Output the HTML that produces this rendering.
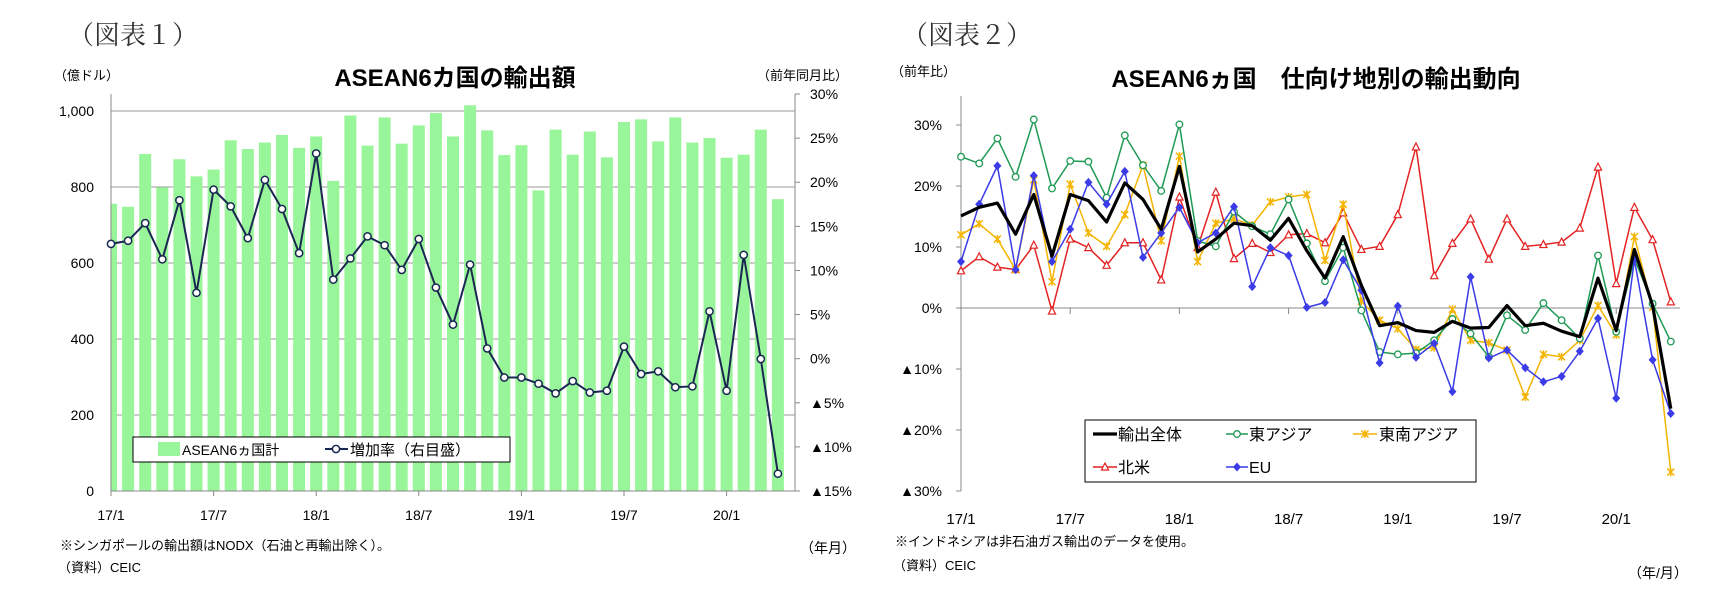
<!DOCTYPE html>
<html><head><meta charset="utf-8">
<style>
body{margin:0;background:#fff;}
svg{display:block;font-family:"Liberation Sans","Noto Sans CJK JP",sans-serif;}
</style></head><body>
<svg width="1717" height="606" viewBox="0 0 1717 606" xmlns="http://www.w3.org/2000/svg">
<g id="c1"></g>
<g id="c2"></g>
</svg>
<script>
const months=["17/1","17/7","18/1","18/7","19/1","19/7","20/1"];
const leftTicks=[0,200,400,600,800,1000];
const rightTicks=["30%","25%","20%","15%","10%","5%","0%","▲5%","▲10%","▲15%"];
const exportsBn=[756,748,887,799,873,828,846,923,900,917,937,903,933,816,988,909,983,914,962,995,933,1015,949,884,910,791,951,885,946,878,971,978,920,983,917,929,877,885,951,768];
const growthPct=[13.05,13.4,15.4,11.3,18.0,7.5,19.2,17.3,13.7,20.3,17.0,12.0,23.3,9.0,11.4,13.9,12.9,10.1,13.6,8.1,3.9,10.7,1.2,-2.1,-2.1,-2.8,-3.9,-2.5,-3.8,-3.6,1.4,-1.7,-1.4,-3.2,-3.1,5.4,-3.6,11.8,0.0,-13.0];
const c2Ticks=["30%","20%","10%","0%","▲10%","▲20%","▲30%"];
const totalS=[15.1,16.5,17.2,12.1,18.6,8.5,18.6,17.6,14.1,20.5,17.8,12.9,23.2,9.2,11.3,13.9,13.5,11.1,14.7,9.4,4.9,11.7,3.7,-2.9,-2.4,-3.7,-4.0,-2.2,-3.3,-3.2,0.4,-2.9,-2.5,-3.8,-4.7,4.9,-3.7,9.6,0.4,-16.5];
const eastAsia=[24.8,23.7,27.8,21.5,30.9,19.6,24.1,24.0,18.1,28.3,23.4,19.2,30.1,11.0,10.1,15.8,13.4,12.1,17.8,10.6,4.4,9.9,-0.4,-7.2,-7.6,-7.4,-5.3,-1.8,-4.2,-8.0,-1.2,-3.6,0.8,-2.0,-5.0,8.6,-3.9,8.1,0.7,-5.5];
const seAsia=[12.0,13.8,11.3,6.3,21.0,4.3,20.3,12.3,10.1,15.3,23.4,11.0,24.9,7.6,13.9,14.6,13.6,17.4,18.2,18.6,7.8,17.0,1.1,-2.0,-3.4,-6.8,-6.5,-0.2,-5.3,-5.7,-6.9,-14.6,-7.6,-8.0,-5.3,0.4,-4.4,11.7,0.1,-26.9];
const northAm=[6.1,8.4,6.7,6.3,10.3,-0.5,11.3,9.9,7.0,10.7,10.7,4.6,18.2,9.9,19.0,8.1,10.6,9.1,12.0,12.2,10.7,15.6,9.6,10.1,15.3,26.4,5.3,10.6,14.6,8.0,14.6,10.1,10.4,10.8,13.1,23.1,4.0,16.5,11.2,1.0];
const euS=[7.6,17.0,23.3,6.3,21.7,7.6,12.9,20.6,17.0,22.4,8.3,12.3,16.5,10.7,12.3,16.6,3.5,9.9,8.6,0.1,0.9,7.9,2.9,-9.0,0.3,-8.1,-5.8,-13.7,5.1,-8.2,-6.9,-9.8,-12.1,-11.2,-7.1,-1.7,-14.8,7.9,-8.5,-17.3];

const NS="http://www.w3.org/2000/svg";
function mk(parent,tag,attrs,txt){const e=document.createElementNS(NS,tag);for(const k in attrs)e.setAttribute(k,attrs[k]);if(txt!==undefined)e.textContent=txt;parent.appendChild(e);return e;}

/* ---------- Chart 1 ---------- */
const g1=document.getElementById('c1');
const X0=111,STEP=17.1,X1=795,YB=491,YT=94;
const yL=v=>YB-v*(YB-111)/1000;
const yR=v=>359-v*(397/45);
const xC=i=>X0+i*STEP;
let t;
t=mk(g1,'text',{x:68,y:44,'font-size':26,'font-family':'"Liberation Serif","Noto Serif CJK SC",serif',fill:'#333'},'（図表１）');

t=mk(g1,'text',{x:455,y:86,'font-size':24,'font-weight':'bold','text-anchor':'middle'},'ASEAN6カ国の輸出額');

t=mk(g1,'text',{x:54,y:80,'font-size':13},'（億ドル）');

t=mk(g1,'text',{x:848,y:80,'font-size':13,'text-anchor':'end'},'（前年同月比）');

const clip=mk(g1,'clipPath',{id:'cl1'});mk(clip,'rect',{x:X0,y:YT,width:X1-X0,height:YB-YT});
leftTicks.forEach(v=>{
  if(v>0){const l=mk(g1,'line',{x1:X0,x2:X1,y1:yL(v),y2:yL(v),stroke:'#999','stroke-width':1});
  }
  const tt=mk(g1,'text',{x:94,y:yL(v)+5,'font-size':14,'text-anchor':'end'},v.toLocaleString('en-US'));
  
});
const barG=mk(g1,'g',{'clip-path':'url(#cl1)'});
exportsBn.forEach((v,i)=>{
  const r=mk(barG,'rect',{x:xC(i)-6,y:yL(v),width:12,height:YB-yL(v),fill:'#99f599'});
  
});
mk(g1,'line',{x1:X0,x2:X0,y1:YT,y2:YB,stroke:'#888'});
mk(g1,'line',{x1:X1,x2:X1,y1:YT,y2:YB,stroke:'#888'});
mk(g1,'line',{x1:X0,x2:X1,y1:YB,y2:YB,stroke:'#888'});
rightTicks.forEach((s,k)=>{
  const y=YT+k*(YB-YT)/9;
  mk(g1,'line',{x1:X1,x2:X1+5,y1:y,y2:y,stroke:'#888'});
  const tt=mk(g1,'text',{x:X1+15,y:y+5,'font-size':14},s);
  
});
months.forEach((m,k)=>{
  const x=xC(k*6);
  mk(g1,'line',{x1:x,x2:x,y1:YB,y2:YB+5,stroke:'#888'});
  const tt=mk(g1,'text',{x:x,y:520,'font-size':14,'text-anchor':'middle'},m);
  
});
const pl=mk(g1,'polyline',{points:growthPct.map((v,i)=>xC(i)+','+yR(v)).join(' '),fill:'none',stroke:'#1b2752','stroke-width':2});

growthPct.forEach((v,i)=>{
  const c=mk(g1,'circle',{cx:xC(i),cy:yR(v),r:3.6,fill:'#fff',stroke:'#1b2752','stroke-width':1.5});
  
});
const lg=mk(g1,'g',{});
mk(lg,'rect',{x:133,y:437,width:377,height:25,fill:'#fff',stroke:'#000'});
mk(lg,'rect',{x:158,y:442,width:22,height:14,fill:'#99f599'});
mk(lg,'text',{x:182,y:455,'font-size':14},'ASEAN6ヵ国計');
mk(lg,'line',{x1:325,x2:348,y1:449,y2:449,stroke:'#1b2752','stroke-width':2});
mk(lg,'circle',{cx:336,cy:449,r:3.6,fill:'#fff',stroke:'#1b2752','stroke-width':1.5});
mk(lg,'text',{x:350,y:455,'font-size':15},'増加率（右目盛）');
t=mk(g1,'text',{x:60,y:550,'font-size':13},'※シンガポールの輸出額はNODX（石油と再輸出除く）。');

t=mk(g1,'text',{x:58,y:572,'font-size':13},'（資料）CEIC');

t=mk(g1,'text',{x:800,y:553,'font-size':14},'（年月）');


/* ---------- Chart 2 ---------- */
const g2=document.getElementById('c2');
const A0=961,AS=18.2,AT=96,AB=491;
const xa=i=>A0+i*AS;
const ya=v=>308-v*6.1;
t=mk(g2,'text',{x:902,y:44,'font-size':26,'font-family':'"Liberation Serif","Noto Serif CJK SC",serif',fill:'#333'},'（図表２）');

t=mk(g2,'text',{x:1316,y:87,'font-size':24,'font-weight':'bold','text-anchor':'middle'},'ASEAN6ヵ国　仕向け地別の輸出動向');

t=mk(g2,'text',{x:891,y:76,'font-size':13},'（前年比）');

mk(g2,'line',{x1:A0,x2:A0,y1:AT,y2:AB,stroke:'#888'});
mk(g2,'line',{x1:A0,x2:1680,y1:ya(0),y2:ya(0),stroke:'#888'});
c2Ticks.forEach((s,k)=>{
  const v=30-k*10,y=ya(v);
  mk(g2,'line',{x1:A0-5,x2:A0,y1:y,y2:y,stroke:'#888'});
  const tt=mk(g2,'text',{x:942,y:y+5,'font-size':14,'text-anchor':'end'},s);
  
});
months.forEach((m,k)=>{
  const x=xa(k*6);
  mk(g2,'line',{x1:x,x2:x,y1:ya(0),y2:ya(0)+6,stroke:'#888'});
  const tt=mk(g2,'text',{x:x,y:524,'font-size':15,'text-anchor':'middle'},m);
  
});
function marker(g,type,x,y,col){
  if(type==='circle')return mk(g,'circle',{cx:x,cy:y,r:3.3,fill:'#fff',stroke:col,'stroke-width':1.3});
  if(type==='tri')return mk(g,'polygon',{points:`${x},${y-4} ${x-3.6},${y+3} ${x+3.6},${y+3}`,fill:'#fff',stroke:col,'stroke-width':1.2});
  if(type==='dia')return mk(g,'polygon',{points:`${x},${y-4.5} ${x+4},${y} ${x},${y+4.5} ${x-4},${y}`,fill:col});
  if(type==='star')return mk(g,'path',{d:`M${x-3.5},${y-3.5}L${x+3.5},${y+3.5}M${x-3.5},${y+3.5}L${x+3.5},${y-3.5}M${x},${y-4}L${x},${y+4}`,stroke:col,'stroke-width':1.5});
}
const series=[
 {d:northAm,c:'#e32222',w:1.5,m:'tri',n:'north-america'},
 {d:seAsia,c:'#f5b400',w:1.5,m:'star',n:'southeast-asia'},
 {d:eastAsia,c:'#1f9a55',w:1.5,m:'circle',n:'east-asia'},
 {d:euS,c:'#3b3be8',w:1.5,m:'dia',n:'eu'},
 {d:totalS,c:'#000',w:3.2,m:null,n:'total-exports'}
];
series.forEach(s=>{
  const sg=mk(g2,'g',{});
  
  mk(sg,'polyline',{points:s.d.map((v,i)=>xa(i)+','+ya(v)).join(' '),fill:'none',stroke:s.c,'stroke-width':s.w,'stroke-linejoin':'round'});
  if(s.m)s.d.forEach((v,i)=>marker(sg,s.m,xa(i),ya(v),s.c));
});
const lg2=mk(g2,'g',{});
mk(lg2,'rect',{x:1085,y:420,width:391,height:62,fill:'#fff',stroke:'#000'});
mk(lg2,'line',{x1:1093,x2:1117,y1:434,y2:434,stroke:'#000','stroke-width':3.2});
mk(lg2,'text',{x:1118,y:440,'font-size':16},'輸出全体');
mk(lg2,'line',{x1:1226,x2:1248,y1:434,y2:434,stroke:'#1f9a55','stroke-width':1.5});
marker(lg2,'circle',1237,434,'#1f9a55');
mk(lg2,'text',{x:1249,y:440,'font-size':16},'東アジア');
mk(lg2,'line',{x1:1353,x2:1377,y1:434,y2:434,stroke:'#f5b400','stroke-width':1.5});
marker(lg2,'star',1365,434,'#f5b400');
mk(lg2,'text',{x:1379,y:440,'font-size':16},'東南アジア');
mk(lg2,'line',{x1:1093,x2:1117,y1:467,y2:467,stroke:'#e32222','stroke-width':1.5});
marker(lg2,'tri',1105,467,'#e32222');
mk(lg2,'text',{x:1118,y:473,'font-size':16},'北米');
mk(lg2,'line',{x1:1226,x2:1248,y1:467,y2:467,stroke:'#3b3be8','stroke-width':1.5});
marker(lg2,'dia',1237,467,'#3b3be8');
mk(lg2,'text',{x:1249,y:473,'font-size':16},'EU');
t=mk(g2,'text',{x:895,y:546,'font-size':13},'※インドネシアは非石油ガス輸出のデータを使用。');

t=mk(g2,'text',{x:893,y:570,'font-size':13},'（資料）CEIC');

t=mk(g2,'text',{x:1628,y:578,'font-size':14},'（年/月）');

</script>
</body></html>
